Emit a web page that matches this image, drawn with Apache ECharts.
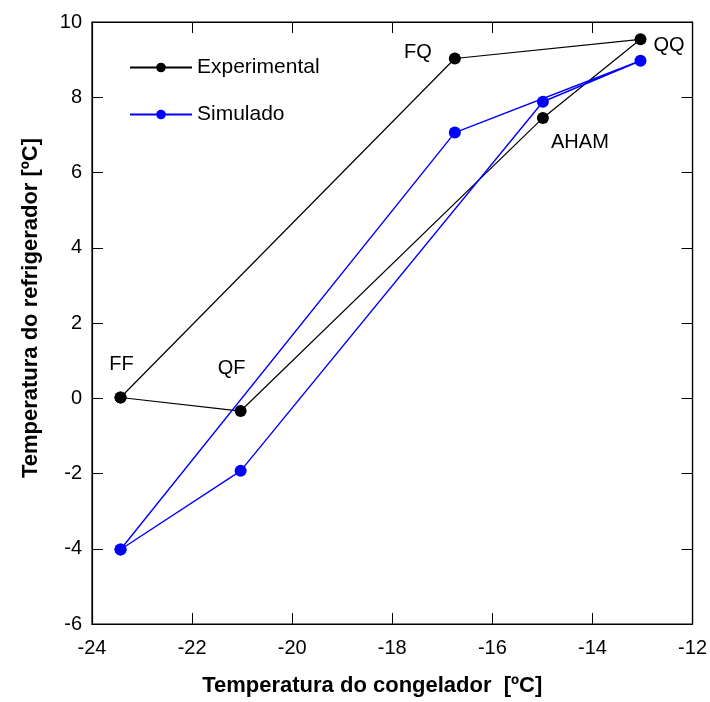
<!DOCTYPE html>
<html>
  <head>
    <meta charset="utf-8">
    <title></title>
    <script src="https://cdn.jsdelivr.net/npm/echarts@6/dist/echarts.min.js"></script>
    <style>
    html,body{ height:100%; width:100%; margin:0px; background:#fff; }
    #chartDiv{ width:710px; height:702px; }
    </style>
  </head>
  <body>
    <div id="chartDiv"></div>
    <script type="text/javascript">
      // data (x = congelador, y = refrigerador)
      var pointNames = ['FF', 'QF', 'AHAM', 'QQ', 'FQ', 'FF'];
      var expX = [-23.43, -21.03, -14.99, -13.04, -16.75, -23.43];
      var expY = [0.02, -0.34, 7.45, 9.54, 9.03, 0.02];

      var simX = [-23.43, -21.03, -14.99, -13.04, -16.75, -23.43];
      var simY = [-4.02, -1.93, 7.88, 8.97, 7.06, -4.02];

      var xTicks = [-24, -22, -20, -18, -16, -14, -12];
      var yTicks = [-6, -4, -2, 0, 2, 4, 6, 8, 10];

      // label placement per point name
      var labelPos = {
        FF:   { position: 'top', offset: [1, -12] },
        FQ:   { position: 'left', offset: [-12, -6] },
        QQ:   { position: 'right', offset: [2, 6] },
        AHAM: { position: 'bottom', offset: [37, 4] },
        QF:   { position: 'top', offset: [-9, -22] }
      };

      var expData = expX.map(function(x, i){
        var item = { value: [x, expY[i]] };
        if (i < expX.length - 1) {
          item.label = {
            show: true,
            formatter: pointNames[i],
            position: labelPos[pointNames[i]].position,
            offset: labelPos[pointNames[i]].offset,
            color: '#000',
            fontSize: 20,
            fontFamily: 'Liberation Sans'
          };
        }
        return item;
      });
      var simData = simX.map(function(x, i){ return [x, simY[i]]; });

      var axisCommon = {
        type: 'value',
        axisLine: { show: true, onZero: false, lineStyle: { color: '#000', width: 1.2 } },
        axisTick: { show: true, inside: true, length: 11, lineStyle: { color: '#000', width: 1 } },
        splitLine: { show: false },
        axisLabel: { color: '#000', fontSize: 20, fontFamily: 'Liberation Sans', margin: 10 },
        nameLocation: 'middle',
        nameTextStyle: { color: '#000', fontSize: 22, fontWeight: 'bold', fontFamily: 'Liberation Sans' }
      };

      var option = {
        animation: false,
        backgroundColor: '#fff',
        grid: { left: 92, right: 17, top: 22, bottom: 77, show: true, borderColor: '#000', borderWidth: 1.2 },
        legend: {
          orient: 'vertical',
          left: 124,
          top: 52,
          itemWidth: 62,
          itemHeight: 12,
          itemGap: 26,
          textStyle: { color: '#000', fontSize: 21, fontFamily: 'Liberation Sans' },
          data: ['Experimental', 'Simulado']
        },
        xAxis: [
          Object.assign({}, axisCommon, {
            min: -24, max: -12, interval: 2,
            name: 'Temperatura do congelador  [ºC]',
            nameGap: 51,
            nameTextStyle: Object.assign({}, axisCommon.nameTextStyle, { padding: [0, 40, 0, 0] }),
            axisLabel: Object.assign({}, axisCommon.axisLabel, {
              margin: 14,
              formatter: function(v){ return xTicks.indexOf(v) >= 0 ? String(v) : ''; }
            })
          }),
          Object.assign({}, axisCommon, {
            position: 'top', min: -24, max: -12, interval: 2,
            axisLabel: { show: false }
          })
        ],
        yAxis: [
          Object.assign({}, axisCommon, {
            min: -6, max: 10, interval: 2,
            name: 'Temperatura do refrigerador [ºC]',
            nameGap: 50,
            nameTextStyle: Object.assign({}, axisCommon.nameTextStyle, { padding: [0, 0, 0, 30] }),
            axisLabel: Object.assign({}, axisCommon.axisLabel, {
              formatter: function(v){ return yTicks.indexOf(v) >= 0 ? String(v) : ''; }
            })
          }),
          Object.assign({}, axisCommon, {
            position: 'right', min: -6, max: 10, interval: 2,
            axisLabel: { show: false }
          })
        ],
        series: [
          {
            name: 'Experimental',
            type: 'line',
            symbol: 'circle',
            symbolSize: 12,
            itemStyle: { color: '#000' },
            lineStyle: { color: '#000', width: 1.2 },
            data: expData
          },
          {
            name: 'Simulado',
            type: 'line',
            symbol: 'circle',
            symbolSize: 12,
            itemStyle: { color: '#0000ff' },
            lineStyle: { color: '#0000ff', width: 1.4 },
            data: simData
          }
        ]
      };

      var chart = echarts.init(document.getElementById('chartDiv'));
      chart.setOption(option);
    </script>
  </body>
</html>
